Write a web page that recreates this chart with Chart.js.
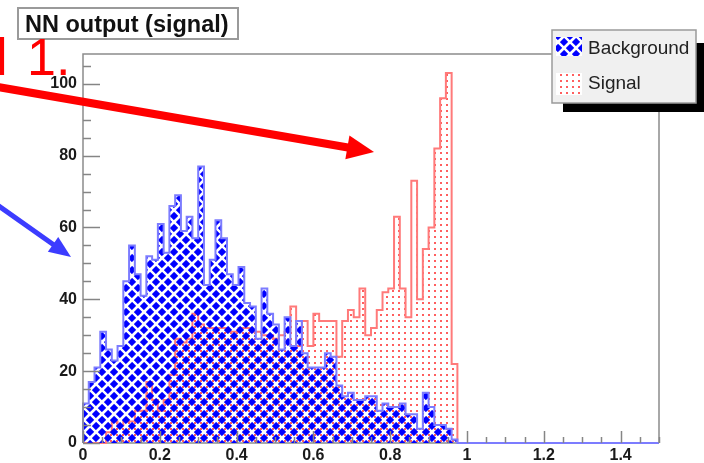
<!DOCTYPE html>
<html><head><meta charset="utf-8">
<script src="https://cdn.jsdelivr.net/npm/chart.js@4/dist/chart.umd.min.js"></script>
<style>html,body{margin:0;padding:0;background:#fff;overflow:hidden}canvas{display:block}</style>
</head><body>
<canvas id="c" width="704" height="463"></canvas>
<script>
// ---- data ----
const binLow = 0;
const binWidth = 0.015;
const backgroundCounts = [11,17,21,31,26,23,27,45,55,47,41,52,51,61,53,66,69,59,63,57,77,
  44,51,62,57,47,44,49,39,38,29,43,36,33,26,35,27,34,25,21,21,21,25,
  24,16,13,14,12,12,13,13,9,11,10,10,11,8,8,4,14,10,5,5,4,1];
const signalCounts = [0,0,0,0,3,6,5,6,6,9,9,17,12,9,12,19,29,28,29,36,33,
  32,32,32,32,31,31,32,32,31,31,30,30,29,30,31,38,27,34,27,36,34,34,
  34,24,34,37,35,43,30,32,37,42,43,63,43,35,73,40,54,60,82,96,103,22];
const seriesNames = ['Background', 'Signal'];
const titleText = 'NN output (signal)';
const slideFragment = ['l', '1.'];
const xAxisMin = 0, xAxisMax = 1.5, xTickStep = 0.2;
const yAxisMin = 0, yAxisMax = 108.3, yTickStep = 20;

const FONT = "'Liberation Sans', Arial, sans-serif";

function stepPoints(counts, extendTo) {
  const pts = [{x: binLow, y: 0}];
  counts.forEach((v, i) => pts.push({x: binLow + i * binWidth, y: v}));
  pts.push({x: binLow + counts.length * binWidth, y: 0});
  if (extendTo !== undefined) pts.push({x: extendTo, y: 0});
  return pts;
}

const cv = document.getElementById('c');
const ctx = cv.getContext('2d');

// blue diamonds with transparent crossing lines (what lies beneath shows through)
function makeHatch() {
  const c = document.createElement('canvas'); c.width = 12; c.height = 12;
  const g = c.getContext('2d');
  g.fillStyle = '#0000ff'; g.fillRect(0, 0, 12, 12);
  g.globalCompositeOperation = 'destination-out';
  g.strokeStyle = '#000'; g.lineWidth = 2.4;
  for (const d of [-12, 0, 12]) {
    g.beginPath(); g.moveTo(-2, -2 - d); g.lineTo(14, 14 - d); g.stroke();
  }
  for (const s of [0, 12, 24]) {
    g.beginPath(); g.moveTo(-2, s + 2); g.lineTo(s + 2, -2); g.stroke();
    g.beginPath(); g.moveTo(s - 14, 14); g.lineTo(14, s - 14); g.stroke();
  }
  return ctx.createPattern(c, 'repeat');
}
function makeDots() {
  const c = document.createElement('canvas'); c.width = 6; c.height = 6;
  const g = c.getContext('2d');
  g.fillStyle = 'rgba(255,40,40,0.75)';
  g.fillRect(2, 2, 2, 2);
  return ctx.createPattern(c, 'repeat');
}
const hatch = makeHatch();
const dots = makeDots();

function arrow(g, x0, y0, x1, y1, lw, headLen, headHalf, color) {
  const dx = x1 - x0, dy = y1 - y0, L = Math.hypot(dx, dy);
  const ux = dx / L, uy = dy / L, px = -uy, py = ux;
  const bx = x1 - ux * headLen, by = y1 - uy * headLen;
  g.save();
  g.strokeStyle = color; g.fillStyle = color; g.lineWidth = lw; g.lineCap = 'butt';
  g.beginPath(); g.moveTo(x0, y0); g.lineTo(bx + ux * 2, by + uy * 2); g.stroke();
  g.beginPath(); g.moveTo(x1, y1); g.lineTo(bx + px * headHalf, by + py * headHalf);
  g.lineTo(bx - px * headHalf, by - py * headHalf); g.closePath(); g.fill();
  g.restore();
}

const deco = {
  id: 'deco',
  beforeDraw(chart) {
    const g = chart.ctx;
    g.save(); g.fillStyle = '#fff'; g.fillRect(0, 0, chart.width, chart.height); g.restore();
  },
  beforeDatasetsDraw(chart) {
    const g = chart.ctx, a = chart.chartArea;
    g.save(); g.strokeStyle = '#8c8c8c'; g.lineWidth = 1.5;
    g.beginPath(); g.moveTo(a.left, a.bottom); g.lineTo(a.right, a.bottom); g.stroke();
    g.restore();
  },
  afterDatasetsDraw(chart) {
    const g = chart.ctx, a = chart.chartArea;
    const xs = chart.scales.x, ys = chart.scales.y;
    g.save();
    g.strokeStyle = '#8c8c8c'; g.lineWidth = 1.5;
    g.beginPath();
    g.moveTo(a.left, a.bottom); g.lineTo(a.left, a.top); g.lineTo(a.right, a.top); g.lineTo(a.right, a.bottom);
    g.stroke();
    g.lineWidth = 1.5; g.strokeStyle = '#858585';
    for (let k = 0; k * 5 <= yAxisMax; k++) {
      const y = Math.round(ys.getPixelForValue(k * 5)) + 0.5;
      const len = (k % 4 === 0) ? 17 : 8;
      g.beginPath(); g.moveTo(a.left, y); g.lineTo(a.left + len, y); g.stroke();
    }
    for (let k = 0; k * 0.05 <= xAxisMax + 1e-9; k++) {
      const x = Math.round(xs.getPixelForValue(k * 0.05)) + 0.5;
      const len = (k % 4 === 0) ? 12 : 6;
      g.beginPath(); g.moveTo(x, a.bottom); g.lineTo(x, a.bottom - len); g.stroke();
    }
    g.restore();
  },
  afterDraw(chart) {
    const g = chart.ctx;
    g.save();
    // title box
    g.fillStyle = '#ffffff'; g.fillRect(18, 8, 220, 31);
    g.strokeStyle = '#9a9a9a'; g.lineWidth = 2; g.strokeRect(18, 8, 220, 31);
    g.fillStyle = '#111'; g.font = 'bold 23.5px ' + FONT; g.textBaseline = 'alphabetic';
    g.fillText(titleText, 25, 32);
    // legend shadow + box
    g.fillStyle = '#000'; g.fillRect(563, 43, 150, 69);
    g.fillStyle = '#f0f0f0'; g.fillRect(552, 30, 144, 73);
    g.strokeStyle = '#9a9a9a'; g.lineWidth = 1.5; g.strokeRect(552, 30, 144, 73);
    g.fillStyle = '#fff'; g.fillRect(556, 37, 26, 19); g.fillRect(556, 73, 26, 22);
    g.fillStyle = hatch; g.fillRect(556, 37, 26, 19);
    g.fillStyle = dots; g.fillRect(556, 73, 26, 22);
    g.fillStyle = '#222'; g.font = '19px ' + FONT;
    g.fillText(seriesNames[0], 588, 54);
    g.fillText(seriesNames[1], 588, 89);
    // red slide text fragment
    g.fillStyle = '#ff0000'; g.font = '52px ' + FONT;
    g.fillText(slideFragment[0], -4, 75);
    g.fillText(slideFragment[1], 27, 75);
    // arrows
    arrow(g, -2, 87, 374, 152, 8, 27, 12, '#ff0000');
    arrow(g, -4, 204, 71, 257, 5, 22, 9, '#3c3cff');
    g.restore();
  }
};

new Chart(cv, {
  type: 'line',
  data: {
    datasets: [
      {label: seriesNames[0], data: stepPoints(backgroundCounts, xAxisMax), stepped: 'before', fill: 'origin',
       backgroundColor: hatch, borderColor: '#7c7cff', borderWidth: 2, pointRadius: 0, order: 1, clip: 10},
      {label: seriesNames[1], data: stepPoints(signalCounts), stepped: 'before', fill: 'origin',
       backgroundColor: dots, borderColor: '#ff7a7a', borderWidth: 2, pointRadius: 0, order: 2, clip: 10}
    ]
  },
  options: {
    responsive: false, animation: false, devicePixelRatio: 1,
    layout: {padding: {top: 54, right: 45, left: 0, bottom: 0}},
    plugins: {legend: {display: false}, tooltip: {enabled: false}, title: {display: false}},
    scales: {
      x: {type: 'linear', min: xAxisMin, max: xAxisMax,
        afterFit(s) { s.height = 20; },
        grid: {display: false, drawTicks: false}, border: {display: false},
        ticks: {stepSize: xTickStep, includeBounds: false, autoSkip: false, maxRotation: 0, padding: 3,
          font: {family: FONT, weight: 'bold', size: 16}, color: '#1a1a1a',
          callback: v => String(Math.round(v * 10) / 10)}},
      y: {type: 'linear', min: yAxisMin, max: yAxisMax,
        afterFit(s) { s.width = 83; },
        grid: {display: false, drawTicks: false}, border: {display: false},
        ticks: {stepSize: yTickStep, includeBounds: false, padding: 6,
          font: {family: FONT, weight: 'bold', size: 16}, color: '#1a1a1a'}}
    }
  },
  plugins: [deco]
});
</script>
</body></html>
